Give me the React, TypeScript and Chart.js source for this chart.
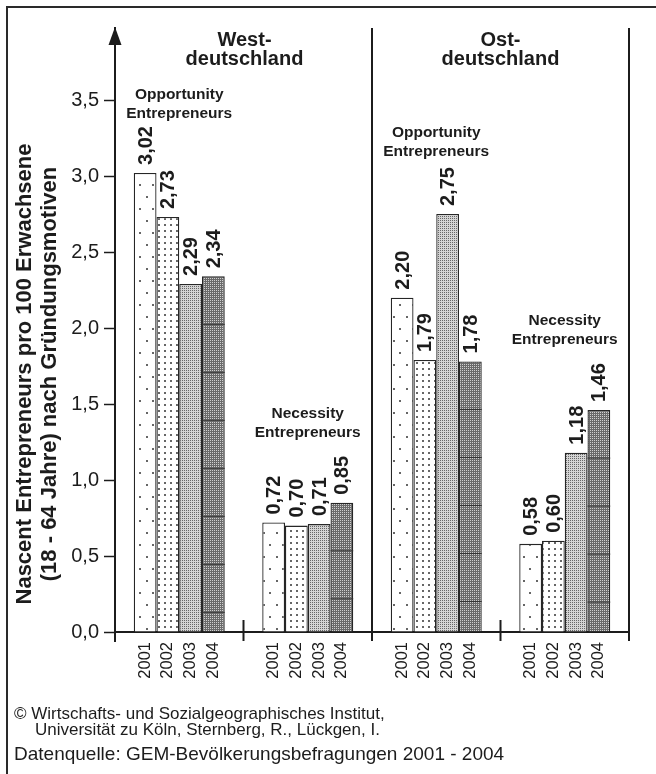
import React, { useEffect, useRef } from 'react';
import { Chart, registerables } from 'chart.js';

Chart.register(...registerables);

// ---------- data ----------
const groups = ['West Opportunity', 'West Necessity', 'Ost Opportunity', 'Ost Necessity'];
const years = ['2001', '2002', '2003', '2004'];
const v2001 = [3.02, 0.72, 2.2, 0.58];
const v2002 = [2.73, 0.7, 1.79, 0.6];
const v2003 = [2.29, 0.71, 2.75, 1.18];
const v2004 = [2.34, 0.85, 1.78, 1.46];
const yTicks = [0, 0.5, 1, 1.5, 2, 2.5, 3, 3.5];
const groupNotes = [
  ['Opportunity', 'Entrepreneurs'],
  ['Necessity', 'Entrepreneurs'],
  ['Opportunity', 'Entrepreneurs'],
  ['Necessity', 'Entrepreneurs'],
];
const regionTitles = [
  ['West-', 'deutschland'],
  ['Ost-', 'deutschland'],
];
const yTitle = ['Nascent Entrepreneurs pro 100 Erwachsene', '(18 - 64 Jahre) nach Gründungsmotiven'];
const footerLines = [
  '© Wirtschafts- und Sozialgeographisches Institut,',
  'Universität zu Köln, Sternberg, R., Lückgen, I.',
  'Datenquelle: GEM-Bevölkerungsbefragungen 2001 - 2004',
];

// annotation anchors (value units on the y axis)
const groupNoteY = [3.51, 1.41, 3.26, 2.02];

const FONT = "'Liberation Sans', Arial, Helvetica, sans-serif";
const INK = '#1c1c1c';

function makePattern(w: number, h: number, bg: string, draw: (g: CanvasRenderingContext2D) => void) {
  const c = document.createElement('canvas');
  c.width = w;
  c.height = h;
  const g = c.getContext('2d')!;
  g.fillStyle = bg;
  g.fillRect(0, 0, w, h);
  draw(g);
  return g.createPattern(c, 'repeat')!;
}

const fmt = (v: number, d: number) => v.toFixed(d).replace('.', ',');

const decor = {
  id: 'decor',
  afterDatasetsDraw(chart: any) {
    const { ctx } = chart;
    const meta = chart.getDatasetMeta(3);
    ctx.save();
    ctx.strokeStyle = '#333';
    ctx.lineWidth = 1;
    meta.data.forEach((bar: any) => {
      const l = bar.x - bar.width / 2;
      const r = bar.x + bar.width / 2;
      for (let y = bar.y + 48; y < bar.base - 3; y += 48) {
        ctx.beginPath();
        ctx.moveTo(l, y);
        ctx.lineTo(r, y);
        ctx.stroke();
      }
    });
    ctx.restore();
  },
  afterDraw(chart: any) {
    const { ctx, chartArea: ca, scales } = chart;
    const xs = scales.x;
    const ys = scales.y;
    const base = ys.getPixelForValue(0);
    ctx.save();

    // outer frame (left + top)
    ctx.strokeStyle = '#2a2a2a';
    ctx.lineWidth = 2;
    ctx.beginPath();
    ctx.moveTo(7, 774);
    ctx.lineTo(7, 7);
    ctx.lineTo(656, 7);
    ctx.stroke();

    // y axis extension + arrow
    const ax = ca.left;
    ctx.strokeStyle = INK;
    ctx.lineWidth = 2;
    ctx.beginPath();
    ctx.moveTo(ax, base);
    ctx.lineTo(ax, base + 10);
    ctx.stroke();
    ctx.fillStyle = INK;
    ctx.beginPath();
    ctx.moveTo(ax, ca.top - 1);
    ctx.lineTo(ax - 6.5, ca.top + 17);
    ctx.lineTo(ax + 6.5, ca.top + 17);
    ctx.closePath();
    ctx.fill();

    // group separators
    const px = groups.map((_, i) => xs.getPixelForValue(i));
    const half = (px[1] - px[0]) / 2;
    const bounds = px.map((p) => p + half);
    bounds.forEach((b, i) => {
      const full = i === 1 || i === 3;
      ctx.beginPath();
      ctx.moveTo(b, full ? ca.top : base - 12);
      ctx.lineTo(b, base + 9);
      ctx.stroke();
    });

    // value labels + year labels
    ctx.fillStyle = INK;
    const series = [v2001, v2002, v2003, v2004];
    series.forEach((vals, i) => {
      const meta = chart.getDatasetMeta(i);
      meta.data.forEach((bar: any, j: number) => {
        ctx.save();
        ctx.translate(bar.x + 1, bar.y - 8);
        ctx.rotate(-Math.PI / 2);
        ctx.font = `bold 20px ${FONT}`;
        ctx.textAlign = 'left';
        ctx.textBaseline = 'middle';
        ctx.fillText(fmt(vals[j], 2), 0, 0);
        ctx.restore();

        ctx.save();
        ctx.translate(bar.x, base + 10);
        ctx.rotate(-Math.PI / 2);
        ctx.font = `16.5px ${FONT}`;
        ctx.textAlign = 'right';
        ctx.textBaseline = 'middle';
        ctx.fillText(years[i], 0, 0);
        ctx.restore();
      });
    });

    // group notes
    ctx.font = `bold 15.5px ${FONT}`;
    ctx.textAlign = 'center';
    ctx.textBaseline = 'alphabetic';
    groupNotes.forEach((lines, g) => {
      const y0 = ys.getPixelForValue(groupNoteY[g]);
      lines.forEach((t, k) => ctx.fillText(t, px[g], y0 + k * 19));
    });

    // region titles
    ctx.font = `bold 20px ${FONT}`;
    const centers = [(ca.left + bounds[1]) / 2 + 1, (bounds[1] + bounds[3]) / 2];
    regionTitles.forEach((lines, r) => {
      lines.forEach((t, k) => ctx.fillText(t, centers[r], ca.top + 18 + k * 19));
    });

    // y title
    ctx.font = `bold 22px ${FONT}`;
    yTitle.forEach((t, k) => {
      ctx.save();
      ctx.translate(31 + k * 24.5, 374);
      ctx.rotate(-Math.PI / 2);
      ctx.textAlign = 'center';
      ctx.textBaseline = 'alphabetic';
      ctx.fillText(t, 0, 0);
      ctx.restore();
    });

    // footer
    ctx.textAlign = 'left';
    ctx.font = `17px ${FONT}`;
    ctx.fillText(footerLines[0], 14, 719);
    ctx.fillText(footerLines[1], 35, 735);
    ctx.font = `19px ${FONT}`;
    ctx.fillText(footerLines[2], 14, 760);

    ctx.restore();
  },
};

export default function App() {
  const ref = useRef<HTMLCanvasElement>(null);

  useEffect(() => {
    const canvas = ref.current;
    if (!canvas) return;

    const p2001 = makePattern(13, 24, '#ffffff', (g) => {
      g.fillStyle = '#666';
      g.fillRect(3, 4, 2, 2);
      g.fillRect(9, 16, 2, 2);
    });
    const p2002 = makePattern(6, 6, '#ffffff', (g) => {
      g.fillStyle = '#666';
      g.fillRect(2, 2, 2, 2);
    });
    const p2003 = makePattern(2, 2, '#d4d4d4', (g) => {
      g.fillStyle = '#666';
      g.fillRect(0, 0, 1, 1);
    });
    const p2004 = makePattern(2, 2, '#6a6a6a', (g) => {
      g.fillStyle = '#d0d0d0';
      g.fillRect(0, 0, 1, 1);
    });
    const pats = [p2001, p2002, p2003, p2004];
    const series = [v2001, v2002, v2003, v2004];

    const chart = new Chart(canvas, {
      type: 'bar',
      data: {
        labels: groups,
        datasets: years.map((y, i) => ({
          label: y,
          data: series[i],
          backgroundColor: pats[i] as any,
          borderColor: '#262626',
          borderWidth: 1.3,
          categoryPercentage: 0.708,
          barPercentage: 1,
        })),
      },
      options: {
        responsive: false,
        animation: false,
        devicePixelRatio: 1,
        layout: { padding: { top: 28, right: 27, bottom: 142, left: 0 } },
        plugins: {
          legend: { display: false },
          tooltip: { enabled: false },
          title: { display: false },
        },
        scales: {
          x: {
            offset: true,
            z: 1,
            afterFit: (s: any) => {
              s.height = 0;
            },
            ticks: { display: false },
            grid: { display: true, drawOnChartArea: false, drawTicks: false },
            border: { display: true, color: INK, width: 2 },
          },
          y: {
            min: 0,
            max: 3.974,
            afterBuildTicks: (s: any) => {
              s.ticks = yTicks.map((value) => ({ value }));
            },
            afterFit: (s: any) => {
              s.width = 115;
            },
            ticks: {
              callback: (v: any) => fmt(Number(v), 1),
              font: { family: FONT, size: 20 },
              color: INK,
              padding: 5,
            },
            grid: {
              drawOnChartArea: false,
              drawTicks: true,
              tickLength: 11,
              tickWidth: 1.5,
              tickColor: INK,
            },
            border: { display: true, color: INK, width: 2 },
          },
        },
      },
      plugins: [decor],
    });

    return () => chart.destroy();
  }, []);

  return (
    <div style={{ position: 'absolute', left: 0, top: 0, width: 656, height: 774, background: '#fff' }}>
      <canvas ref={ref} width={656} height={774} style={{ display: 'block', width: 656, height: 774 }} />
    </div>
  );
}
